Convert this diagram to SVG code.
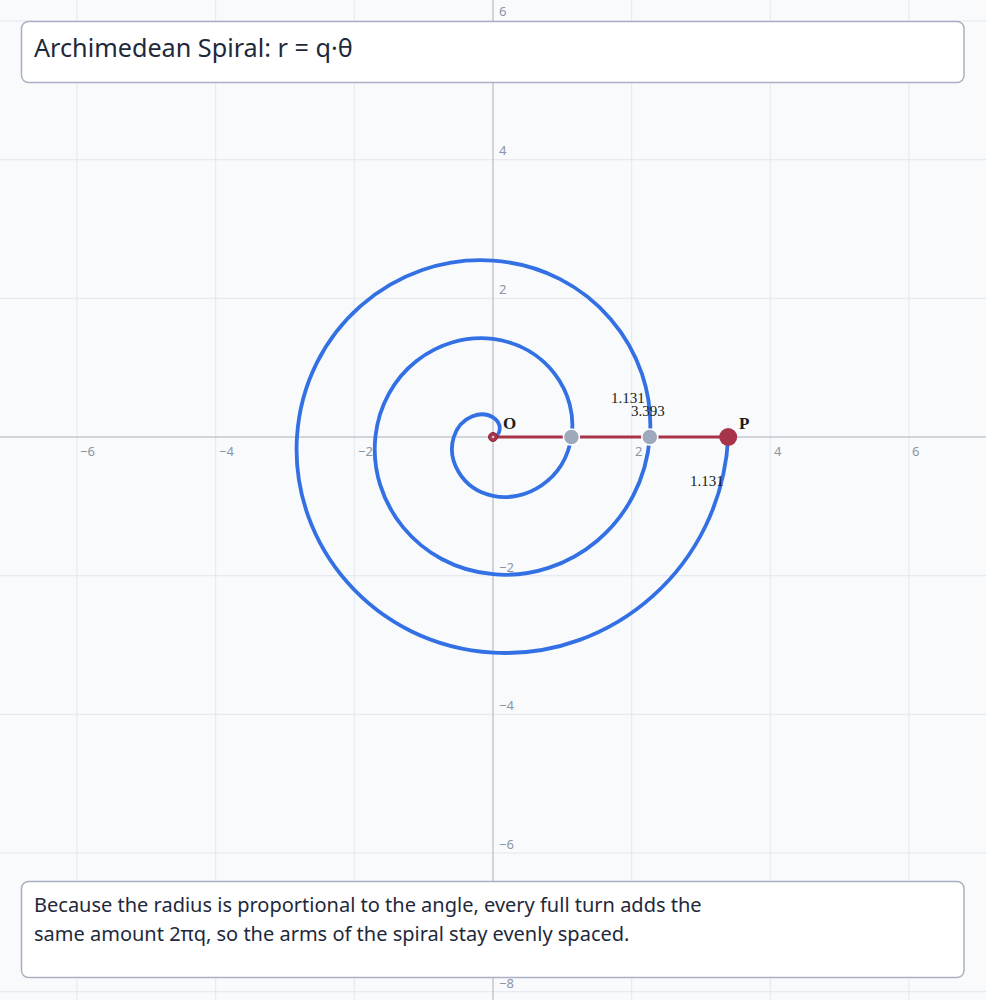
<svg xmlns="http://www.w3.org/2000/svg" width="986" height="1000" viewBox="0 0 986 1000">
<style>
.grid{stroke:#e3e7ee;stroke-width:1}
.axis{stroke:#c3c8d2;stroke-width:1.5}
.tick{font-family:"Noto Sans","Liberation Sans",sans-serif;font-size:13px;fill:#8c95a6}
.box{fill:#ffffff;stroke:#a9b1c1;stroke-width:1.5}
.title{font-family:"Noto Sans","Liberation Sans",sans-serif;font-size:25.2px;fill:#1e293b}
.note{font-family:"Noto Sans","Liberation Sans",sans-serif;font-size:20px;fill:#1e293b}
.lbl{font-family:"Liberation Serif",serif;font-size:15px;fill:#1a1a1a}
.plbl{font-family:"Liberation Serif",serif;font-size:17px;font-weight:bold;fill:#1a1a1a}
</style>
<rect width="986" height="1000" fill="#f8fafc"/>
<g id="grid">
<line class="grid" x1="77" y1="0" x2="77" y2="1000"/>
<line class="grid" x1="215.7" y1="0" x2="215.7" y2="1000"/>
<line class="grid" x1="354.3" y1="0" x2="354.3" y2="1000"/>
<line class="grid" x1="631.7" y1="0" x2="631.7" y2="1000"/>
<line class="grid" x1="770.3" y1="0" x2="770.3" y2="1000"/>
<line class="grid" x1="909" y1="0" x2="909" y2="1000"/>
<line class="grid" x1="0" y1="21" x2="986" y2="21"/>
<line class="grid" x1="0" y1="159.7" x2="986" y2="159.7"/>
<line class="grid" x1="0" y1="298.3" x2="986" y2="298.3"/>
<line class="grid" x1="0" y1="575.7" x2="986" y2="575.7"/>
<line class="grid" x1="0" y1="714.3" x2="986" y2="714.3"/>
<line class="grid" x1="0" y1="853" x2="986" y2="853"/>
<line class="grid" x1="0" y1="991.7" x2="986" y2="991.7"/>
<line class="axis" x1="0" y1="437" x2="986" y2="437"/>
<line class="axis" x1="493" y1="0" x2="493" y2="1000"/>
</g>
<g id="ticks">
<text class="tick" x="80" y="456">−6</text>
<text class="tick" x="219" y="456">−4</text>
<text class="tick" x="358" y="456">−2</text>
<text class="tick" x="635" y="456">2</text>
<text class="tick" x="774" y="456">4</text>
<text class="tick" x="912" y="456">6</text>
<text class="tick" x="499" y="16">6</text>
<text class="tick" x="499" y="155">4</text>
<text class="tick" x="499" y="294">2</text>
<text class="tick" x="499" y="572">−2</text>
<text class="tick" x="499" y="710">−4</text>
<text class="tick" x="499" y="849">−6</text>
<text class="tick" x="499" y="988">−8</text>
</g>
<g id="connectors">
<path id="spiral" fill="none" stroke="#3270e4" stroke-width="3.8" stroke-linecap="round" d="M493,437 C499.893,437 503.827,424.289 493,417.396 C482.173,410.503 460.686,415.346 453.793,437 C446.9,458.654 460.518,488.918 493,495.811 C525.482,502.704 564.521,480.308 571.414,437 C578.307,393.692 547.135,345.875 493,338.982 C438.865,332.089 382.272,372.038 375.379,437 C368.486,501.962 417.211,567.332 493,574.225 C568.789,581.118 642.935,523.617 649.828,437 C656.721,350.383 590.444,267.461 493,260.568 C395.556,253.675 303.857,328.729 296.964,437 C290.071,545.271 373.902,645.746 493,652.639 C612.098,659.532 721.35,566.925 728.243,437"/>
<line id="radius" x1="493" y1="437" x2="728.2" y2="437" stroke="#a8344a" stroke-width="3"/>
</g>
<g id="node-O">
<circle cx="493" cy="437" r="4.5" fill="#a8344a" stroke="#8a2a3c" stroke-width="1"/>
<circle cx="493" cy="437" r="1.3" fill="#c9ced8"/>
<text class="plbl" x="503" y="429">O</text>
</g>
<g id="node-A">
<circle cx="571.4" cy="437" r="8" fill="#9ea9bc" stroke="#ffffff" stroke-width="1.5"/>
</g>
<g id="node-B">
<circle cx="649.8" cy="437" r="8" fill="#9ea9bc" stroke="#ffffff" stroke-width="1.5"/>
</g>
<g id="node-P">
<circle cx="728.2" cy="437" r="9" fill="#a8344a"/>
<text class="plbl" x="739" y="429">P</text>
</g>
<g id="labels">
<text class="lbl" x="611" y="403">1.131</text>
<text class="lbl" x="631" y="416">3.393</text>
<text class="lbl" x="690" y="486">1.131</text>
</g>
<g id="title">
<rect class="box" x="21.5" y="21.5" width="942.5" height="61" rx="7"/>
<text class="title" x="34" y="57">Archimedean Spiral: r = q·θ</text>
</g>
<g id="note">
<rect class="box" x="21.5" y="881.5" width="942.5" height="96" rx="7"/>
<text class="note" x="34" y="912">Because the radius is proportional to the angle, every full turn adds the</text>
<text class="note" x="34" y="941">same amount 2πq, so the arms of the spiral stay evenly spaced.</text>
</g>
</svg>
